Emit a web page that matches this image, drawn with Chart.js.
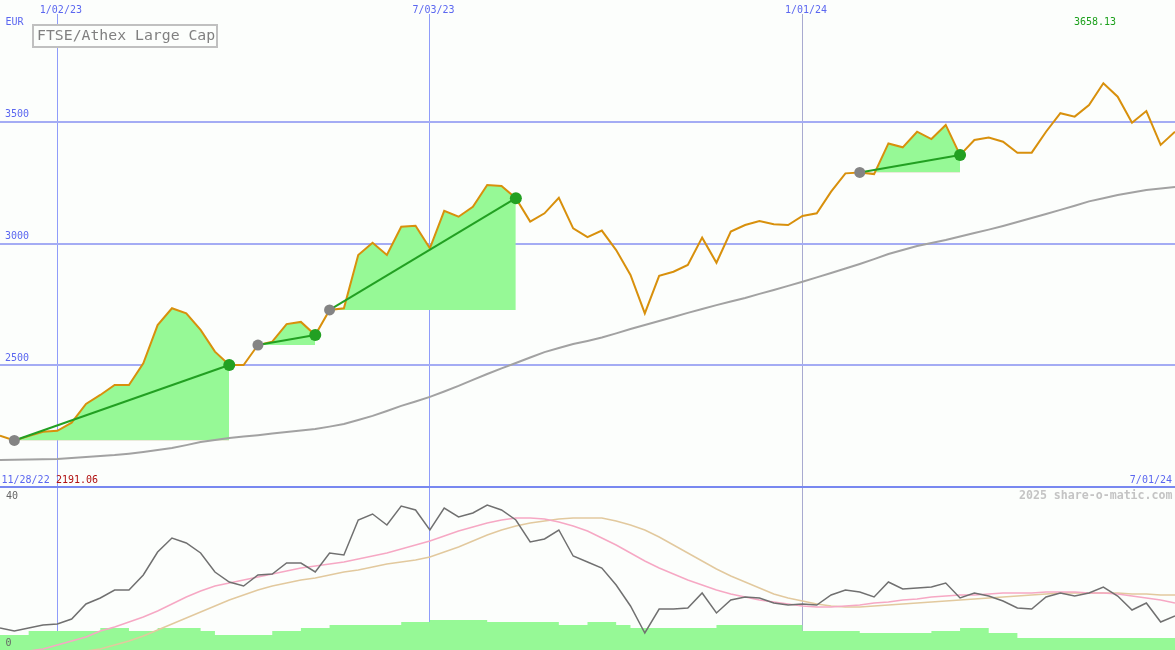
<!DOCTYPE html>
<html>
<head>
<meta charset="utf-8">
<script src="https://cdn.jsdelivr.net/npm/chart.js@4.4.1/dist/chart.umd.min.js"></script>
<style>
    body { margin: 0; background: #fcfefc; }
    #wrap { position: relative; width: 1175px; height: 650px; overflow: hidden; background: #fcfefc; font-family: "DejaVu Sans Mono", monospace; }
    #top { position: absolute; left: 0; top: 0; }
    #bottom { position: absolute; left: 0; top: 488px; }
    #sep { position: absolute; left: 0; top: 486px; width: 1175px; height: 2px; background: #7888f0; }
    #strip { position: absolute; left: 0; top: 0; width: 1175px; height: 14px; background: #fcfefc; }
    #title { position: absolute; left: 32px; top: 24px; width: 182px; height: 20px; border: 2px solid #c0c0c0; background: #fcfefc; }
    .lbl { position: absolute; line-height: 1; white-space: pre; }
</style>
</head>
<body>
<div id="wrap">
    <canvas id="top" width="1175" height="487"></canvas>
    <canvas id="bottom" width="1175" height="162"></canvas>
    <div id="sep"></div>
    <div id="strip"></div>
    <div id="title"></div>
</div>
<script>
// weekly closes, FTSE/Athex Large Cap (EUR)
const price = [
    2211, 2191.06, 2209, 2227, 2231, 2264, 2341, 2378, 2419, 2419,
    2508, 2665, 2734, 2713, 2645, 2556, 2501, 2501, 2583, 2597,
    2669, 2678, 2624, 2727, 2734, 2953, 3003, 2953, 3069, 3073,
    2980, 3134, 3110, 3151, 3240, 3236, 3186, 3090, 3124, 3188,
    3062, 3026, 3053, 2973, 2871, 2713, 2867, 2884, 2912, 3024,
    2921, 3049, 3076, 3092, 3079, 3076, 3113, 3124, 3213, 3288,
    3292, 3285, 3411, 3395, 3459, 3429, 3487, 3363, 3425, 3435,
    3418, 3373, 3373, 3459, 3535, 3521, 3569, 3658.13, 3603, 3496,
    3544, 3405, 3459,
];
// slow moving average
const average = [
    2111, 2112, 2113, 2114, 2115, 2119, 2123, 2127, 2131, 2137,
    2144, 2152, 2160, 2172, 2185, 2193, 2201, 2207, 2213, 2220,
    2226, 2232, 2238, 2248, 2259, 2275, 2292, 2312, 2333, 2351,
    2370, 2392, 2415, 2440, 2464, 2487, 2509, 2532, 2554, 2571,
    2587, 2600, 2614, 2631, 2649, 2665, 2682, 2698, 2715, 2731,
    2747, 2762, 2776, 2793, 2809, 2826, 2843, 2861, 2879, 2897,
    2916, 2936, 2957, 2973, 2990, 3002, 3014, 3029, 3043, 3057,
    3072, 3088, 3105, 3121, 3138, 3155, 3173, 3186, 3199, 3209,
    3220, 3226, 3232,
];
// lower panel
const oscillator = [
    5.5, 4.75, 5.5, 6.25, 6.5, 7.75, 11.5, 13, 15, 15,
    18.75, 24.5, 28, 26.75, 24.25, 19.5, 17, 16, 18.75, 19,
    21.75, 21.75, 19.5, 24.25, 23.75, 32.5, 34, 31.25, 36, 35,
    30, 35.5, 33.25, 34.25, 36.25, 35, 32.5, 27, 27.75, 30,
    23.5, 22, 20.5, 16.25, 11, 4.25, 10.25, 10.25, 10.5, 14.25,
    9.25, 12.5, 13.25, 13, 11.75, 11.25, 11.5, 11.25, 13.75, 15,
    14.5, 13.25, 17, 15.25, 15.5, 15.75, 16.75, 13, 14.25, 13.5,
    12.25, 10.5, 10.25, 13.25, 14.25, 13.5, 14.25, 15.75, 13.5, 10,
    11.75, 7, 8.5,
];
const signal = [
    -1, -0.5, -0.25, 0.25, 1.25, 2.25, 3.25, 4.75, 5.75, 7,
    8.25, 9.75, 11.5, 13.25, 14.75, 16, 16.75, 17.5, 18.25, 19,
    19.75, 20.5, 21, 21.5, 22, 22.75, 23.5, 24.25, 25.25, 26.25,
    27.25, 28.5, 29.75, 30.75, 31.75, 32.5, 33, 33, 32.75, 32,
    31, 29.75, 28, 26.25, 24.25, 22.25, 20.5, 19, 17.5, 16.25,
    15, 14, 13.25, 12.5, 12, 11.5, 11, 10.75, 10.75, 11,
    11.25, 11.75, 12, 12.5, 12.75, 13.25, 13.5, 13.75, 13.75, 14,
    14.25, 14.25, 14.25, 14.5, 14.5, 14.5, 14.25, 14.25, 14, 13.5,
    13, 12.5, 11.75,
];
const slowSignal = [
    -4.5, -3.75, -3, -2.25, -1.5, -0.75, -0.25, 0.25, 1.25, 2.25,
    3.5, 5, 6.5, 8, 9.5, 11, 12.5, 13.75, 15, 16,
    16.75, 17.5, 18, 18.75, 19.5, 20, 20.75, 21.5, 22, 22.5,
    23.25, 24.5, 25.75, 27.25, 28.75, 30, 31, 31.75, 32.25, 32.75,
    33, 33, 33, 32.25, 31.25, 30, 28.25, 26.25, 24.25, 22.25,
    20.25, 18.5, 17, 15.5, 14, 13, 12.25, 11.5, 11, 10.75,
    10.75, 11, 11.25, 11.5, 11.75, 12, 12.25, 12.5, 12.75, 13,
    13.25, 13.5, 13.75, 14, 14.25, 14.25, 14.25, 14.25, 14.25, 14,
    14, 13.75, 13.75,
];
const volume = [
    3.75, 3.75, 4.75, 4.75, 4.75, 4.75, 4.75, 5.5, 5.5, 4.75,
    4.75, 5.5, 5.5, 5.5, 4.75, 3.75, 3.75, 3.75, 3.75, 4.75,
    4.75, 5.5, 5.5, 6.25, 6.25, 6.25, 6.25, 6.25, 7, 7,
    7.5, 7.5, 7.5, 7.5, 7, 7, 7, 7, 7, 6.25,
    6.25, 7, 7, 6.25, 5.5, 5.5, 5.5, 5.5, 5.5, 5.5,
    6.25, 6.25, 6.25, 6.25, 6.25, 6.25, 4.75, 4.75, 4.75, 4.75,
    4.25, 4.25, 4.25, 4.25, 4.25, 4.75, 4.75, 5.5, 5.5, 4.25,
    4.25, 3, 3, 3, 3, 3, 3, 3, 3, 3,
    3, 3, 3,
];
const buyWeeks = [1, 18, 23, 60];
const sellWeeks = [16, 22, 36, 67];
const firstWeek = "2022-12-05";
const tickDates = ["2023-01-02", "2023-07-03", "2024-01-01"];
const tickLabels = ["1/02/23", "7/03/23", "1/01/24"];
const priceTicks = [2500, 3000, 3500];

const FONT = "'DejaVu Sans Mono', monospace";
const BLUE = "#5b67f0";
const weekOf = (d) => (Date.parse(d) - Date.parse(firstWeek)) / (7 * 86400000);
const xTicks = tickDates.map(weekOf);
const pts = (arr) => arr.map((v, i) => ({ x: i, y: v }));
const lastWeek = price.length - 1;

function xScale() {
    return {
        type: "linear",
        min: 0,
        max: lastWeek,
        border: { display: false },
        ticks: { display: false },
        grid: {
            drawTicks: false,
            lineWidth: 1,
            color: ["#8f9cfa", "#8f9cfa", "#a8aad0"],
        },
        afterBuildTicks: (axis) => { axis.ticks = xTicks.map((v) => ({ value: v })); },
    };
}

const topSets = [];
topSets.push({
    data: buyWeeks.map((i) => ({ x: i, y: price[i] })),
    showLine: false, pointRadius: 5.5, pointBackgroundColor: "#848484", pointBorderWidth: 0,
});
topSets.push({
    data: sellWeeks.map((i) => ({ x: i, y: price[i] })),
    showLine: false, pointRadius: 6, pointBackgroundColor: "#22a022", pointBorderWidth: 0,
});
buyWeeks.forEach((b, k) => {
    const s = sellWeeks[k];
    topSets.push({
        data: [{ x: b, y: price[b] }, { x: s, y: price[s] }],
        borderColor: "#22a022", borderWidth: 2,
    });
});
topSets.push({ data: pts(price), borderColor: "#d8900c", borderWidth: 2 });
topSets.push({ data: pts(average), borderColor: "#a2a2a2", borderWidth: 2 });
buyWeeks.forEach((b, k) => {
    const s = sellWeeks[k];
    topSets.push({
        data: price.slice(b, s + 1).map((v, j) => ({ x: b + j, y: v })),
        borderWidth: 0,
        fill: { target: { value: price[b] }, above: "#96f996", below: "#ffb6c1" },
    });
});

new Chart(document.getElementById("top"), {
    type: "line",
    data: { datasets: topSets },
    options: {
        responsive: false,
        animation: false,
        events: [],
        layout: { padding: 0, autoPadding: false },
        elements: { point: { radius: 0 }, line: { tension: 0 } },
        plugins: { legend: { display: false }, tooltip: { enabled: false } },
        scales: {
            x: xScale(),
            y: {
                min: 2000,
                max: 4000,
                border: { display: false },
                grid: { drawTicks: false, lineWidth: 2, color: "#a4acf4" },
                ticks: {
                    mirror: true,
                    padding: 5,
                    labelOffset: -7,
                    color: BLUE,
                    font: { family: FONT, size: 10 },
                    callback: (v) => String(v),
                },
                afterBuildTicks: (axis) => { axis.ticks = priceTicks.map((v) => ({ value: v })); },
                afterFit: (axis) => { axis.width = 0; axis.paddingTop = 0; axis.paddingBottom = 0; },
            },
        },
    },
});

const volumeSteps = pts(volume).concat([{ x: lastWeek + 1, y: volume[lastWeek] }]);

new Chart(document.getElementById("bottom"), {
    type: "line",
    data: {
        datasets: [
            { data: pts(oscillator), borderColor: "#707070", borderWidth: 1.5 },
            { data: pts(signal), borderColor: "#f6a8c4", borderWidth: 1.5 },
            { data: pts(slowSignal), borderColor: "#e2c99e", borderWidth: 1.5 },
            { data: volumeSteps, stepped: true, borderWidth: 0, fill: "origin", backgroundColor: "#96f996" },
        ],
    },
    options: {
        responsive: false,
        animation: false,
        events: [],
        layout: { padding: 0, autoPadding: false },
        elements: { point: { radius: 0 }, line: { tension: 0 } },
        plugins: { legend: { display: false }, tooltip: { enabled: false } },
        scales: {
            x: xScale(),
            y: { display: false, min: 0, max: 40.5 },
        },
    },
});

// text overlays
const wrap = document.getElementById("wrap");
function addText(text, x, baseline, size, color, align, bold) {
    const el = document.createElement("div");
    el.className = "lbl";
    el.textContent = text;
    el.style.fontSize = size + "px";
    el.style.color = color;
    el.style.top = (baseline - 0.846 * size) + "px";
    if (bold) el.style.fontWeight = "bold";
    if (align === "right") el.style.right = (1175 - x) + "px";
    else el.style.left = x + "px";
    wrap.appendChild(el);
}
const pxPerWeek = 1175 / lastWeek;
xTicks.forEach((w, i) => addText(tickLabels[i], w * pxPerWeek - 17.5, 13, 10, BLUE));
addText("EUR", 5.5, 25, 10, BLUE);
addText("FTSE/Athex Large Cap", 37, 40.8, 14.8, "#808080");
addText(price[77].toFixed(2), 1074, 25, 10, "#1ca01c");
addText("11/28/22", 1.5, 483, 10, BLUE);
addText(price[1].toFixed(2), 56, 483, 10, "#b01010");
addText("7/01/24", 1172, 483, 10, BLUE, "right");
addText("40", 6, 499.5, 10, "#666666");
addText("0", 5.5, 646, 10, "#666666");
addText("2025 share-o-matic.com", 1172.5, 500, 11.6, "#c4c4c4", "right", true);
</script>
</body>
</html>
